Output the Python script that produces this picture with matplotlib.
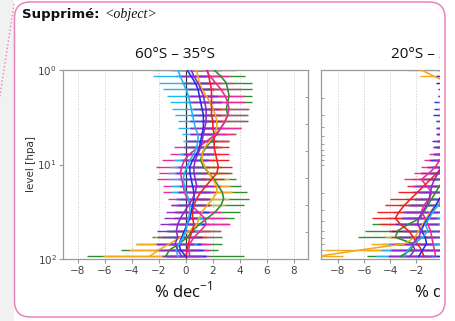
import numpy as np
import matplotlib
matplotlib.use("Agg")
import matplotlib.pyplot as plt
from matplotlib.patches import Rectangle, FancyBboxPatch
from matplotlib.lines import Line2D
from matplotlib.ticker import LogLocator, NullLocator, NullFormatter

# ─── DATA ───────────────────────────────────────────────────────────────────
# pressure levels (hPa)
levels = [1.0, 1.17, 1.37, 1.6, 1.87, 2.2, 2.57, 3.0, 3.5, 4.1,
          4.8, 5.6, 6.6, 7.7, 9.0, 10.5, 12.3, 14.4, 16.8, 19.7,
          23, 27, 31.5, 37, 43, 50, 59, 69, 80, 94]

series_colors = ["#2e8b2e", "#f4a81c", "#f21f1f", "#ea2a9a",
                 "#1f2cf0", "#22b4ef", "#8a2bc6"]

# 60S-35S trends (% dec-1) and their uncertainties
south_mid = {
    "green":  [2.1, 2.6, 3.0, 3.1, 3.2, 3.1, 3.0, 3.1, 2.9, 2.6,
               2.3, 1.9, 1.5, 1.2, 1.1, 1.3, 1.7, 2.1, 2.4, 2.7,
               2.8, 2.6, 2.2, 1.6, 1.0, 0.5, 0.1, -0.5, -1.2, -1.5],
    "orange": [0.8, 0.9, 1.0, 1.2, 1.5, 1.8, 2.0, 2.2, 2.3, 2.3,
               2.1, 1.8, 1.4, 1.2, 1.2, 1.4, 1.7, 2.0, 2.3, 2.3,
               2.0, 1.6, 1.2, 1.0, 0.8, 0.3, -0.4, -1.2, -2.0, -2.7],
    "red":    [1.6, 1.7, 1.8, 1.9, 1.9, 1.9, 1.9, 1.9, 2.0, 2.0,
               2.1, 2.1, 2.1, 2.2, 2.3, 2.4, 2.3, 1.9, 1.5, 1.1,
               0.8, 0.6, 0.5, 0.5, 0.6, 0.5, 0.3, 0.2, 0.1, 0.0],
    "pink":   [1.5, 1.8, 2.2, 2.6, 2.9, 3.1, 3.2, 3.1, 2.9, 2.6,
               2.2, 1.6, 0.9, 0.3, -0.1, -0.3, -0.4, -0.3, -0.2, -0.1,
               0.1, 0.4, 0.9, 1.4, 1.5, 1.1, 0.6, 0.3, 0.2, 0.3],
    "blue":   [0.1, 0.4, 0.7, 0.9, 1.0, 1.1, 1.2, 1.3, 1.3, 1.3,
               1.2, 1.1, 1.0, 0.8, 0.5, 0.3, 0.3, 0.4, 0.5, 0.6,
               0.6, 0.5, 0.4, 0.3, 0.1, -0.1, -0.3, -0.5, -0.4, 0.0],
    "cyan":   [-0.6, -0.4, -0.2, 0.0, 0.2, 0.3, 0.4, 0.5, 0.6, 0.7,
               0.9, 0.9, 0.8, 0.6, 0.3, 0.1, -0.1, -0.2, -0.1, 0.0,
               0.2, 0.3, 0.3, 0.2, 0.1, 0.0, -0.2, -0.5, -0.7, -0.6],
    "purple": [0.4, 0.6, 0.9, 1.1, 1.3, 1.4, 1.5, 1.5, 1.5, 1.4,
               1.3, 1.2, 1.1, 0.9, 0.7, 0.6, 0.6, 0.7, 0.8, 0.7,
               0.5, 0.2, -0.1, -0.4, -0.6, -0.7, -0.6, -0.8, -0.6, -0.3],
}
south_mid_err = {
    "green":  [1.6, 1.8, 1.9, 1.8, 1.7, 1.8, 1.6, 1.5, 1.7, 1.5,
               1.4, 1.3, 1.2, 1.3, 1.2, 1.4, 1.5, 1.6, 1.7, 1.8,
               1.9, 1.7, 1.8, 2.0, 2.2, 2.0, 2.6, 3.2, 3.6, 5.8],
    "orange": [1.1, 1.3, 1.2, 1.0, 1.1, 1.2, 1.0, 1.1, 1.2, 1.0,
               0.9, 1.0, 1.1, 1.0, 0.9, 1.0, 1.1, 1.2, 1.0, 1.1,
               1.2, 1.3, 1.2, 1.4, 1.5, 1.6, 1.9, 2.5, 2.2, 3.4],
    "red":    [0.9, 1.0, 0.8, 0.9, 1.0, 0.8, 0.9, 1.0, 0.9, 0.8,
               0.9, 1.0, 1.1, 1.0, 0.9, 1.0, 1.1, 0.9, 1.0, 1.1,
               1.0, 1.2, 1.1, 1.0, 1.2, 1.3, 1.2, 1.4, 1.3, 1.5],
    "pink":   [1.2, 1.4, 1.3, 1.5, 1.4, 1.3, 1.5, 1.4, 1.6, 1.5,
               1.4, 1.6, 1.8, 1.5, 1.7, 1.9, 1.6, 1.8, 1.5, 1.6,
               1.4, 1.5, 1.7, 1.6, 1.8, 1.5, 1.4, 1.6, 1.5, 1.4],
    "blue":   [1.2, 1.1, 1.0, 0.9, 1.1, 1.0, 0.9, 1.0, 1.1, 1.0,
               0.9, 1.0, 1.1, 1.2, 1.0, 1.1, 1.2, 1.0, 1.1, 1.2,
               1.1, 1.2, 1.3, 1.2, 1.4, 1.3, 1.5, 1.6, 1.7, 1.5],
    "cyan":   [1.9, 2.0, 1.8, 1.7, 1.6, 1.5, 1.4, 1.3, 1.2, 1.3,
               1.2, 1.1, 1.0, 1.1, 1.2, 1.3, 1.2, 1.1, 1.0, 1.1,
               1.0, 0.9, 1.0, 1.1, 1.0, 1.2, 1.1, 1.3, 1.2, 1.1],
    "purple": [1.0, 1.1, 1.2, 1.0, 1.1, 1.2, 1.0, 1.1, 1.2, 1.1,
               1.0, 1.1, 1.2, 1.1, 1.0, 1.2, 1.3, 1.1, 1.2, 1.3,
               1.2, 1.3, 1.4, 1.2, 1.3, 1.4, 1.5, 1.4, 1.6, 1.5],
}

# 20S-20N trends (% dec-1) and their uncertainties
tropics = {
    "green":  [1.4, 1.6, 1.8, 1.9, 2.0, 1.9, 1.8, 1.6, 1.5, 1.4,
               1.3, 1.2, 1.1, 1.0, 0.9, 0.7, 0.5, 0.2, -0.2, -0.5,
               -0.8, -1.1, -1.4, -1.7, -2.6, -3.4, -3.6, -2.2, -2.4, -3.2],
    "orange": [-1.6, -0.6, 0.5, 1.0, 1.2, 1.3, 1.4, 1.3, 1.2, 1.1,
               1.0, 0.9, 0.8, 0.8, 0.7, 0.7, 0.6, 0.5, 0.4, 0.3,
               -0.1, -0.5, -0.9, -1.2, -1.5, -1.8, -2.1, -2.9, -6.2, -9.6],
    "red":    [1.0, 1.2, 1.4, 1.5, 1.6, 1.4, 1.3, 1.2, 1.1, 1.0,
               0.9, 0.8, 0.6, 0.4, 0.2, 0.0, -0.4, -0.9, -1.4, -1.9,
               -2.4, -2.9, -3.3, -3.6, -3.2, -2.6, -2.2, -1.9, -1.6, -1.4],
    "pink":   [1.3, 1.5, 1.6, 1.5, 1.4, 1.3, 1.2, 1.1, 1.0, 0.9,
               0.8, 0.6, 0.5, 0.3, -0.2, -0.5, -1.0, -1.6, -1.2, -0.8,
               -1.0, -1.4, -1.6, -1.3, -1.1, -0.9, -0.8, -0.7, -0.6, -0.5],
    "blue":   [0.8, 0.9, 1.0, 1.1, 1.0, 0.9, 0.8, 0.9, 1.0, 0.9,
               0.8, 0.7, 0.8, 0.7, 0.6, 0.6, 0.5, 0.4, 0.3, 0.1,
               -0.2, -0.5, -0.8, -1.1, -1.4, -1.6, -1.3, -1.2, -1.5, -1.8],
    "cyan":   [1.0, 1.1, 1.2, 1.3, 1.2, 1.1, 1.0, 1.1, 1.2, 1.1,
               1.0, 0.9, 0.9, 0.8, 0.7, 0.6, 0.5, 0.4, 0.3, 0.2,
               0.0, -0.3, -0.7, -1.0, -1.3, -1.1, -1.5, -2.2, -2.6, -2.9],
    "purple": [1.2, 1.3, 1.2, 1.1, 1.0, 1.1, 1.0, 0.9, 0.8, 0.7,
               0.7, 0.6, 0.6, 0.5, 0.4, 0.0, -0.3, -0.6, -0.8, -0.9,
               -1.0, -1.2, -1.5, -1.8, -1.9, -1.6, -1.8, -2.3, -2.1, -2.5],
}
tropics_err = {
    "green":  [1.5, 1.6, 1.4, 1.5, 1.6, 1.5, 1.4, 1.5, 1.6, 1.5,
               1.4, 1.5, 1.6, 1.5, 1.4, 1.5, 1.6, 1.7, 1.8, 1.9,
               2.0, 2.2, 2.4, 2.6, 2.8, 2.5, 2.9, 2.4, 3.4, 2.6],
    "orange": [1.0, 1.1, 1.0, 1.1, 1.2, 1.1, 1.0, 1.1, 1.2, 1.1,
               1.0, 1.1, 1.2, 1.1, 1.0, 1.1, 1.2, 1.3, 1.4, 1.5,
               1.6, 1.7, 1.8, 1.9, 2.0, 2.1, 2.3, 2.6, 2.8, 2.0],
    "red":    [1.1, 1.2, 1.1, 1.3, 1.2, 1.1, 1.3, 1.2, 1.1, 1.2,
               1.3, 1.2, 1.1, 1.2, 1.3, 1.2, 1.3, 1.4, 1.3, 1.5,
               1.6, 1.5, 1.7, 1.8, 1.6, 1.5, 1.7, 1.6, 1.8, 1.7],
    "pink":   [1.2, 1.3, 1.2, 1.1, 1.2, 1.3, 1.2, 1.1, 1.2, 1.3,
               1.2, 1.1, 1.2, 1.3, 1.2, 1.1, 1.2, 1.3, 1.2, 1.1,
               1.2, 1.3, 1.2, 1.4, 1.3, 1.2, 1.4, 1.3, 1.2, 1.4],
    "blue":   [1.3, 1.4, 1.5, 1.4, 1.3, 1.5, 1.4, 1.6, 1.5, 1.4,
               1.3, 1.5, 1.4, 1.3, 1.5, 1.4, 1.6, 1.5, 1.7, 1.8,
               1.9, 2.0, 2.1, 2.0, 2.2, 2.3, 2.2, 2.4, 2.5, 2.3],
    "cyan":   [1.2, 1.3, 1.4, 1.3, 1.2, 1.4, 1.3, 1.2, 1.3, 1.4,
               1.3, 1.2, 1.3, 1.4, 1.3, 1.2, 1.3, 1.4, 1.3, 1.5,
               1.6, 1.5, 1.7, 1.6, 1.8, 1.7, 1.9, 2.0, 2.1, 2.2],
    "purple": [1.1, 1.2, 1.1, 1.2, 1.3, 1.2, 1.1, 1.2, 1.3, 1.2,
               1.1, 1.2, 1.3, 1.2, 1.1, 1.2, 1.3, 1.2, 1.4, 1.3,
               1.2, 1.4, 1.5, 1.4, 1.6, 1.5, 1.7, 1.6, 1.8, 1.7],
}

xticks = [-8, -6, -4, -2, 0, 2, 4, 6, 8]
xticks_visible_right = [-8, -6, -4, -2]   # the rest sits under the balloon edge
band_titles = ["60°S – 35°S", "20°S – 20°N"]

# ─── LAYOUT (pixels of the 456x321 screenshot) ──────────────────────────────
W, H = 456, 321
PINK = "#e884b8"
SPINE = "#9a9a9a"


def fig_rect(x0, y0, w, h):
    """pixel box (top-left origin) -> figure fraction [l, b, w, h]"""
    return [x0 / W, 1 - (y0 + h) / H, w / W, h / H]


def draw_panel(ax, trends, errs, ticks, show_ylabels):
    names = list(trends.keys())
    for name, c in zip(names, series_colors):
        ax.errorbar(trends[name], levels, xerr=errs[name], fmt="none",
                    ecolor=c, elinewidth=1.0, capsize=0, zorder=2)
    for name, c in zip(names, series_colors):
        ax.plot(trends[name], levels, color=c, linewidth=1.15, zorder=3)

    ax.axvline(0, color="#333333", linewidth=0.9, zorder=1)
    ax.set_yscale("log")
    ax.set_ylim(100, 1)
    ax.set_xticks(ticks)
    ax.set_xticklabels([str(t).replace("-", "\u2212") for t in ticks])
    for xg in xticks:
        ax.axvline(xg, linestyle=":", color="#c8c8c8", linewidth=0.7, zorder=0)
    for s in ax.spines.values():
        s.set_color(SPINE)
        s.set_linewidth(0.9)
    ax.tick_params(axis="x", labelsize=7.5, colors="#444444", length=3,
                   width=0.8, pad=2)
    ax.tick_params(axis="x", color=SPINE)
    ax.yaxis.set_major_locator(LogLocator(base=10, numticks=5))
    if show_ylabels:
        ax.yaxis.set_minor_locator(NullLocator())
        ax.tick_params(axis="y", labelsize=7.5, colors="#444444", length=3,
                       width=0.8, pad=1.5)
        ax.tick_params(axis="y", color=SPINE)
    else:
        ax.yaxis.set_minor_locator(LogLocator(base=10, subs=np.arange(2, 10), numticks=10))
        ax.yaxis.set_minor_formatter(NullFormatter())
        ax.tick_params(axis="y", which="both", direction="in", labelleft=False,
                       color=SPINE, length=2.5, width=0.7)


fig = plt.figure(figsize=(W / 100, H / 100), dpi=100)
fig.patch.set_facecolor("white")

# grey margin on the left of the comment balloon + dotted connector
fig.add_artist(Rectangle((0, 0), 14 / W, 1, transform=fig.transFigure,
                         facecolor="#f1f1f1", edgecolor="none", zorder=0))
fig.add_artist(Line2D([14 / W, 0], [1 - 4 / H, 1 - 96 / H], transform=fig.transFigure,
                      color=PINK, linestyle=":", linewidth=1.0, zorder=12))

ax_l = fig.add_axes(fig_rect(63, 70, 245, 189))
ax_l.set_xlim(-9.1, 9.05)
draw_panel(ax_l, south_mid, south_mid_err, xticks, True)
ax_l.set_ylabel("level [hpa]", fontsize=7.5, color="#333333")
ax_l.yaxis.set_label_coords(-0.112, 0.5)

# equally spaced marks on the right frame of the first panel
ax_tw = ax_l.twinx()
ax_tw.set_ylim(0, 7)
ax_tw.set_yticks(range(8))
ax_tw.tick_params(axis="y", direction="in", length=2.5, width=0.7,
                  color=SPINE, labelright=False)
for s in ax_tw.spines.values():
    s.set_visible(False)

ax_r = fig.add_axes(fig_rect(320.7, 70, 243, 189))
ax_r.set_xlim(-9.33, 9.33)
draw_panel(ax_r, tropics, tropics_err, xticks_visible_right, False)

title_kw = dict(ha="center", va="center", fontsize=11, family="Open Sans",
                color="#111111")
fig.text(175 / W, 1 - 54 / H, band_titles[0], **title_kw)
fig.text(433 / W, 1 - 54 / H, band_titles[1], **title_kw)

xlab = r"% dec$^{\mathregular{-1}}$"
fig.text(183 / W, 1 - 291 / H, xlab, **title_kw | dict(fontsize=12))
fig.text(443 / W, 1 - 291 / H, xlab, **title_kw | dict(fontsize=12))

# comment header
fig.text(22 / W, 1 - 18 / H, "Supprimé:", fontsize=9.5, fontweight="bold",
         family="DejaVu Sans", va="baseline", color="#111111")
fig.text(104 / W, 1 - 18 / H, "<object>", fontsize=10, style="italic",
         family="Liberation Serif", va="baseline", color="#111111")

# the balloon cuts the second panel off on the right
fig.add_artist(Rectangle((440 / W, 0), 1, 1, transform=fig.transFigure,
                         facecolor="white", edgecolor="none", zorder=10))
fig.add_artist(FancyBboxPatch((14.5 / W, 1 - 317 / H), (445 - 14.5) / W, 315 / H,
                              boxstyle="round,pad=0,rounding_size=0.035",
                              transform=fig.transFigure, facecolor="none",
                              edgecolor=PINK, linewidth=1.1, zorder=11,
                              mutation_aspect=W / H))

fig.savefig("out.png", dpi=100)
